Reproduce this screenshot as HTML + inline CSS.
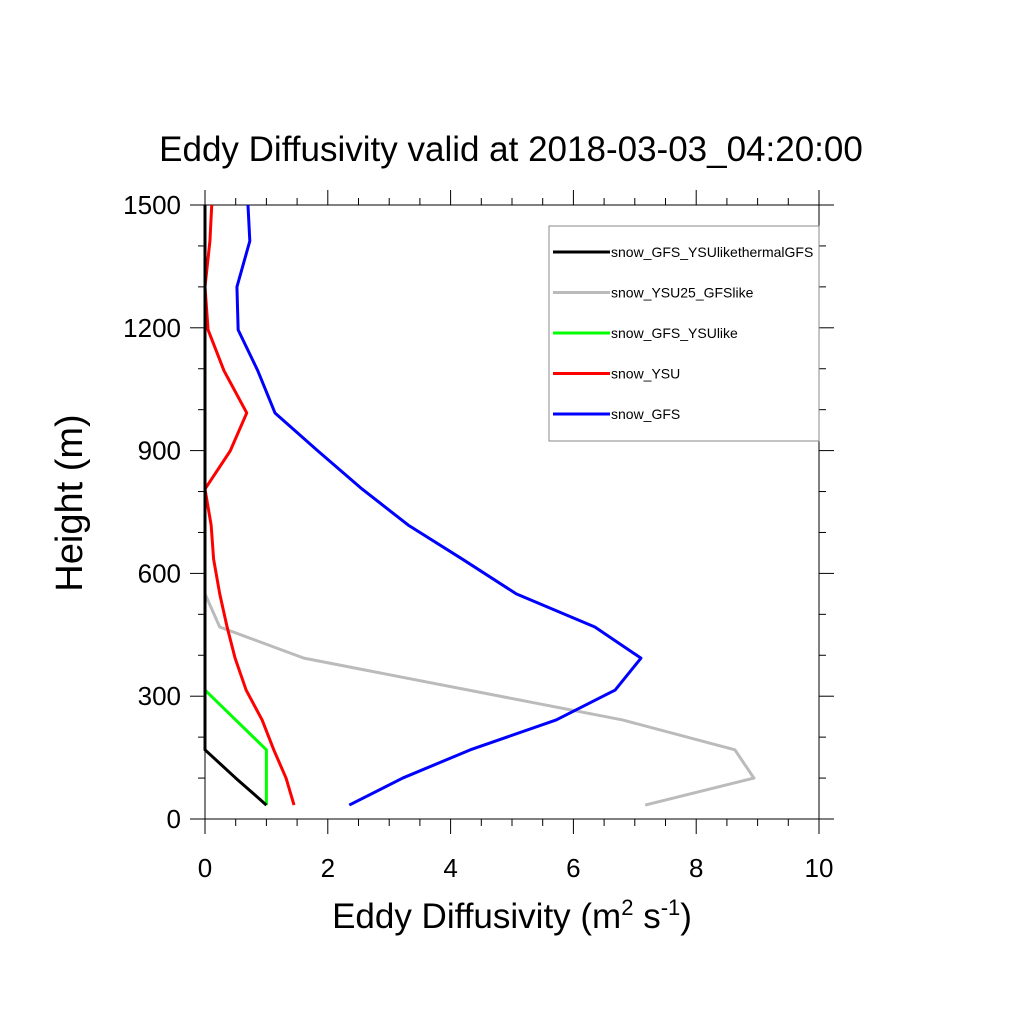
<!DOCTYPE html>
<html><head><meta charset="utf-8"><style>body{margin:0;background:#fff}svg{display:block}text{font-family:"Liberation Sans",sans-serif}</style></head>
<body>
<svg id="c" width="1024" height="1024"></svg>
<script>
const heights=[34,100,169,242,315,393,469,550,635,718,806,899,992,1095,1195,1300,1412,1500];
const blueVals=[2.35,3.22,4.32,5.72,6.68,7.10,6.35,5.07,4.19,3.31,2.56,1.84,1.14,0.86,0.54,0.52,0.73,0.70];
const redVals=[1.45,1.32,1.12,0.93,0.67,0.49,0.36,0.24,0.14,0.10,0,0.41,0.68,0.31,0.05,0,0.08,0.11];
const grayVals=[7.17,8.94,8.63,6.8,1.61,0.24,0.24,0,0,0,0,0,0,0,0,0,0,0];
const greenVals=[1,1,1,0.5,0,0,0,0,0,0,0,0,0,0,0,0,0,0];
const blackVals=[1,0.5,0,0,0,0,0,0,0,0,0,0,0,0,0,0,0,0];
const xTicks=[0,2,4,6,8,10];
const yTicks=[0,300,600,900,1200,1500];
const seriesNames=["snow_GFS_YSUlikethermalGFS","snow_YSU25_GFSlike","snow_GFS_YSUlike","snow_YSU","snow_GFS"];
const seriesColors=["#000","#bbb","#0f0","#f00","#00f"];
const grayH=[34,100,169,242,393,469,469,550,635,718,806,899,992,1095,1195,1300,1412,1500];
const L=205,R=819,T=205,B=819;
const X=v=>L+v/10*(R-L), Y=v=>B-v/1500*(B-T);
const svg=document.getElementById('c');const NS='http://www.w3.org/2000/svg';
function mk(t,a,p){const e=document.createElementNS(NS,t);for(const k in a)e.setAttribute(k,a[k]);(p||svg).appendChild(e);return e;}
let e;
e=mk('text',{x:511,y:161,'font-size':35,'text-anchor':'middle'});e.textContent='Eddy Diffusivity valid at 2018-03-03_04:20:00';


e=mk('rect',{x:L,y:T,width:R-L,height:B-T,fill:'none',stroke:'#000','stroke-width':1});


for(let v=0;v<=10;v+=0.5){const maj=v%2===0,len=maj?15:7;
 mk('line',{x1:X(v),x2:X(v),y1:B,y2:B+len,stroke:'#000'});mk('line',{x1:X(v),x2:X(v),y1:T,y2:T-len,stroke:'#000'});}
for(let v=0;v<=1500;v+=100){const maj=v%300===0,len=maj?15:7;
 mk('line',{x1:L,x2:L-len,y1:Y(v),y2:Y(v),stroke:'#000'});mk('line',{x1:R,x2:R+len,y1:Y(v),y2:Y(v),stroke:'#000'});}
xTicks.forEach(v=>{e=mk('text',{x:X(v),y:877,'font-size':26,'text-anchor':'middle'});e.textContent=v;

});
yTicks.forEach(v=>{e=mk('text',{x:181,y:Y(v)+9,'font-size':26,'text-anchor':'end'});e.textContent=v;

});
e=mk('text',{x:512,y:928,'font-size':35,'text-anchor':'middle'});
e.innerHTML='Eddy Diffusivity (m<tspan dy="-13" font-size="22">2</tspan><tspan dy="13"> s</tspan><tspan dy="-13" font-size="22">-1</tspan><tspan dy="13">)</tspan>';


e=mk('text',{x:0,y:0,'font-size':38,'text-anchor':'middle',transform:'translate(82,503) rotate(-90)'});e.textContent='Height (m)';


const all=[[blackVals,heights],[grayVals,grayH],[greenVals,heights],[redVals,heights],[blueVals,heights]];
const draw=[1,2,3,4,0];
draw.forEach(i=>{const [vals,hs]=all[i];
 e=mk('polyline',{points:vals.map((v,j)=>X(v)+','+Y(hs[j])).join(' '),fill:'none',stroke:seriesColors[i],'stroke-width':3,'stroke-linejoin':'round'});
 
 });
e=mk('rect',{x:549,y:226,width:270,height:215,fill:'#fff',stroke:'#888','stroke-width':1});


seriesNames.forEach((n,i)=>{const y=252+i*40.5;
 e=mk('line',{x1:553,x2:610,y1:y,y2:y,stroke:seriesColors[i],'stroke-width':3});
 
 
 e=mk('text',{x:611,y:y+5,'font-size':14});e.textContent=n;
 
 });
</script>
</body></html>
